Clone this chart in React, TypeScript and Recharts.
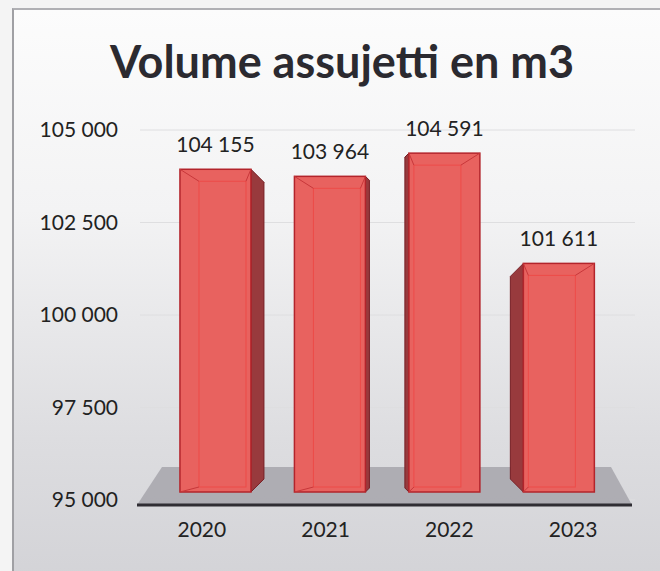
import { BarChart, Bar, XAxis, YAxis, CartesianGrid, LabelList, ReferenceArea } from 'recharts'

const years = ['2020', '2021', '2022', '2023']
const volumes = [104155, 103964, 104591, 101611]
const yTicks = [95000, 97500, 100000, 102500, 105000]

const data = years.map((year, i) => ({ year, volume: volumes[i] }))

const W = 660
const H = 571
const M = { top: 130, right: 25, bottom: 21, left: 0 }
const Y_W = 140
const plotCenter = M.left + Y_W + (W - M.left - Y_W - M.right) / 2

const fmt = (v: number) => String(v).replace(/\B(?=(\d{3})+(?!\d))/g, ' ')

// fake perspective: bars lean toward the middle, outer ones show a side face
const persp = (cx: number) => {
  const off = plotCenter - cx
  return { shift: off * 0.075, side: Math.round((off / 186) * 13) }
}

const Bar3D = (props: any) => {
  const { x, y: y0, width, height } = props
  const bottom = y0 + height - 8
  const y = y0 + 8
  const { shift, side: s } = persp(x + width / 2)
  const d = Math.abs(s)
  const fx = x + shift
  const fw = width
  const sideX = s > 0 ? fx + fw : fx
  const side =
    s > 0
      ? `${sideX},${y} ${sideX + d},${y + d} ${sideX + d},${bottom - d} ${sideX},${bottom}`
      : `${sideX},${y} ${sideX - d},${y + d} ${sideX - d},${bottom - d} ${sideX},${bottom}`
  const il = s >= 0 ? 19 : 5
  const ir = s >= 0 ? 5 : 19
  return (
    <g>
      {d > 0 && <polygon points={side} fill="#983a3d" stroke="#761e24" strokeWidth={1} />}
      <rect x={fx} y={y} width={fw} height={bottom - y} fill="#e8625f" stroke="#b3242b" strokeWidth={1.5} />
      <rect
        x={fx + il}
        y={y + 12}
        width={fw - il - ir}
        height={bottom - y - 17}
        fill="none"
        stroke="#f0413f"
        strokeOpacity={0.7}
        strokeWidth={1}
      />
      <line x1={fx} y1={y} x2={fx + il} y2={y + 12} stroke="#c8373a" strokeWidth={1} />
      <line x1={fx + fw} y1={y} x2={fx + fw - ir} y2={y + 12} stroke="#c8373a" strokeWidth={1} />
      <line x1={fx} y1={bottom} x2={fx + il} y2={bottom - 5} stroke="#c8373a" strokeWidth={1} />
    </g>
  )
}

const BarLabel = (props: any) => {
  const { x, y, width, value } = props
  const { shift } = persp(x + width / 2)
  return (
    <text x={x + width / 2 + shift} y={y - 9} textAnchor="middle" fill="#222" fontSize={21}>
      {fmt(value)}
    </text>
  )
}

const Floor = (props: any) => {
  const { x, y, width, height } = props
  const pts = `${x + 22},${y + 4} ${x + width - 24},${y + 4} ${x + width - 3},${y + height + 5} ${x - 3},${y + height + 5}`
  return (
    <g>
      <polygon points={pts} fill="#a9a7ae" fillOpacity={0.9} />
      <line x1={x - 3} y1={y + height + 5} x2={x + width - 3} y2={y + height + 5} stroke="#2f2d33" strokeWidth={3} />
    </g>
  )
}

export default function App() {
  return (
    <div
      style={{
        position: 'absolute',
        left: 0,
        top: 0,
        width: W,
        height: H,
        background: '#f4f4f4',
        overflow: 'hidden',
        fontFamily: 'Lato, sans-serif',
      }}
    >
      <div
        style={{
          position: 'absolute',
          left: 12,
          top: 8,
          width: W,
          height: H,
          borderLeft: '2px solid #a0a0a4',
          borderTop: '2px solid #b0b0b4',
          background: 'linear-gradient(180deg, #fcfcfc 0%, #f3f3f4 35%, #dddde0 75%, #d3d3d7 100%)',
        }}
      />
      <div
        style={{
          position: 'absolute',
          left: 12,
          width: 660,
          top: 34,
          textAlign: 'center',
          fontSize: 45,
          fontWeight: 700,
          color: '#2b2a30',
          lineHeight: 1.2,
        }}
      >
        Volume assujetti en m3
      </div>
      <div style={{ position: 'absolute', left: 0, top: 0 }}>
        <BarChart width={W} height={H} data={data} margin={M} barSize={71}>
          <CartesianGrid vertical={false} stroke="#dedee0" />
          <ReferenceArea y1={95000} y2={96000} shape={<Floor />} ifOverflow="visible" />
          <XAxis
            dataKey="year"
            height={50}
            axisLine={false}
            tickLine={false}
            tickMargin={16}
            tick={{ fill: '#222', fontSize: 21 }}
          />
          <YAxis
            width={Y_W}
            domain={[95000, 105000]}
            ticks={yTicks}
            axisLine={false}
            tickLine={false}
            tickSize={0}
            tickMargin={22}
            tickFormatter={fmt}
            tick={{ fill: '#222', fontSize: 21 }}
          />
          <Bar dataKey="volume" shape={<Bar3D />} isAnimationActive={false}>
            <LabelList dataKey="volume" content={<BarLabel />} />
          </Bar>
        </BarChart>
      </div>
    </div>
  )
}
